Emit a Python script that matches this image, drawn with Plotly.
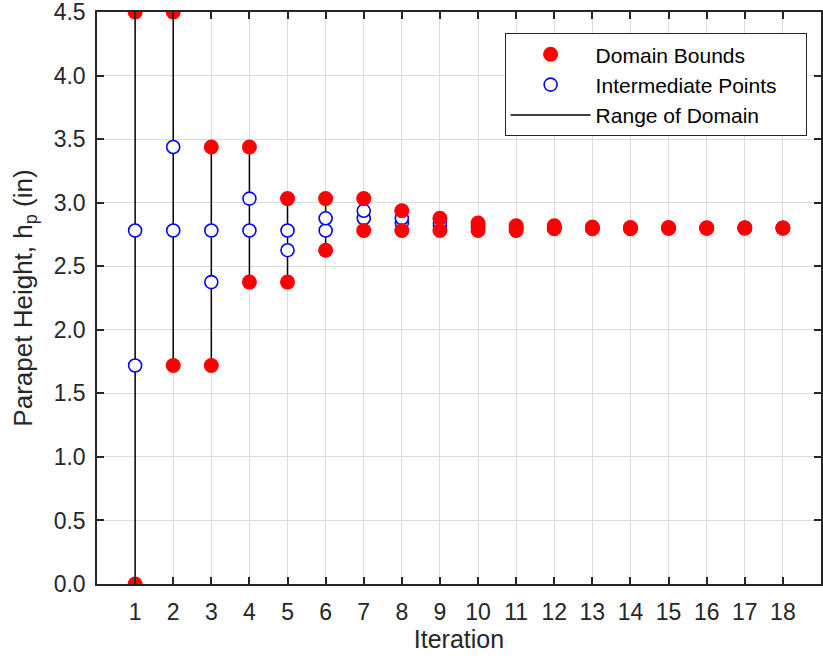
import plotly.graph_objects as go

# Golden-section search history for the parapet height
iterations = list(range(1, 19))
lower_bound = [0.000, 1.719, 1.719, 2.375, 2.375, 2.626, 2.781, 2.781, 2.781,
               2.781, 2.781, 2.795, 2.795, 2.795, 2.798, 2.798, 2.800, 2.800]
upper_bound = [4.500, 4.500, 3.438, 3.438, 3.032, 3.032, 3.032, 2.936, 2.877,
               2.840, 2.818, 2.818, 2.809, 2.804, 2.804, 2.802, 2.802, 2.801]
inner_a = [1.719, 2.781, 2.375, 2.781, 2.626, 2.781, 2.877, 2.840, 2.818,
           2.804, 2.795, 2.804, 2.800, 2.798, 2.800, 2.800, 2.801, 2.800]
inner_b = [2.781, 3.438, 2.781, 3.032, 2.781, 2.877, 2.936, 2.877, 2.840,
           2.818, 2.804, 2.809, 2.804, 2.800, 2.802, 2.801, 2.801, 2.801]

y_ticks = [0.0, 0.5, 1.0, 1.5, 2.0, 2.5, 3.0, 3.5, 4.0, 4.5]

FONT = "Liberation Sans, Arial, sans-serif"
AXIS_COLOR = "#262626"
PAD = "\u00a0" * 4  # extra room on the right of the legend box

# vertical segments spanning each iteration's bracket
seg_x, seg_y = [], []
for it, lo, hi in zip(iterations, lower_bound, upper_bound):
    seg_x += [it, it, None]
    seg_y += [lo, hi, None]

fig = go.Figure()

fig.add_trace(go.Scatter(
    x=seg_x, y=seg_y, mode="lines", name="Range of Domain",
    line=dict(color="black", width=1.5), legendrank=3,
))

fig.add_trace(go.Scatter(
    x=iterations + iterations, y=inner_a + inner_b, mode="markers",
    name="Intermediate Points" + PAD, legendrank=2,
    marker=dict(symbol="circle", size=13, color="white",
                line=dict(color="#0000ff", width=1.6)),
))

fig.add_trace(go.Scatter(
    x=iterations + iterations, y=lower_bound + upper_bound, mode="markers",
    name="Domain Bounds", legendrank=1,
    marker=dict(symbol="circle", size=15, color="#ff0000",
                line=dict(color="#ff0000", width=0)),
))

axis_common = dict(
    showline=True, linecolor=AXIS_COLOR, linewidth=1.5, mirror="ticks",
    ticks="inside", ticklen=7, tickwidth=1.5, tickcolor=AXIS_COLOR,
    showgrid=True, gridcolor="#dcdcdc", gridwidth=1, zeroline=False,
    tickfont=dict(family=FONT, size=23, color=AXIS_COLOR),
    ticklabeloverflow="allow", automargin=False,
)

fig.update_xaxes(
    range=[0, 19], tickvals=iterations, ticktext=[str(i) for i in iterations],
    title=dict(text="Iteration", font=dict(family=FONT, size=25, color=AXIS_COLOR),
               standoff=6),
    ticklabelstandoff=7,
    **axis_common,
)
fig.update_yaxes(
    range=[0, 4.5], tickvals=y_ticks, ticktext=[f"{v:.1f}" for v in y_ticks],
    title=dict(text="Parapet Height, h<sub>p</sub> (in)",
               font=dict(family=FONT, size=26, color=AXIS_COLOR), standoff=14),
    ticklabelstandoff=5,
    **axis_common,
)

fig.update_layout(
    width=823, height=660,
    margin=dict(l=97, r=2, t=12, b=76),
    paper_bgcolor="white", plot_bgcolor="white",
    showlegend=True,
    legend=dict(
        x=0.563, y=0.963, xanchor="left", yanchor="top",
        bgcolor="white", bordercolor=AXIS_COLOR, borderwidth=1,
        font=dict(family=FONT, size=21, color="black"),
        itemwidth=80, tracegroupgap=0,
    ),
)

fig.write_html("out.html")
